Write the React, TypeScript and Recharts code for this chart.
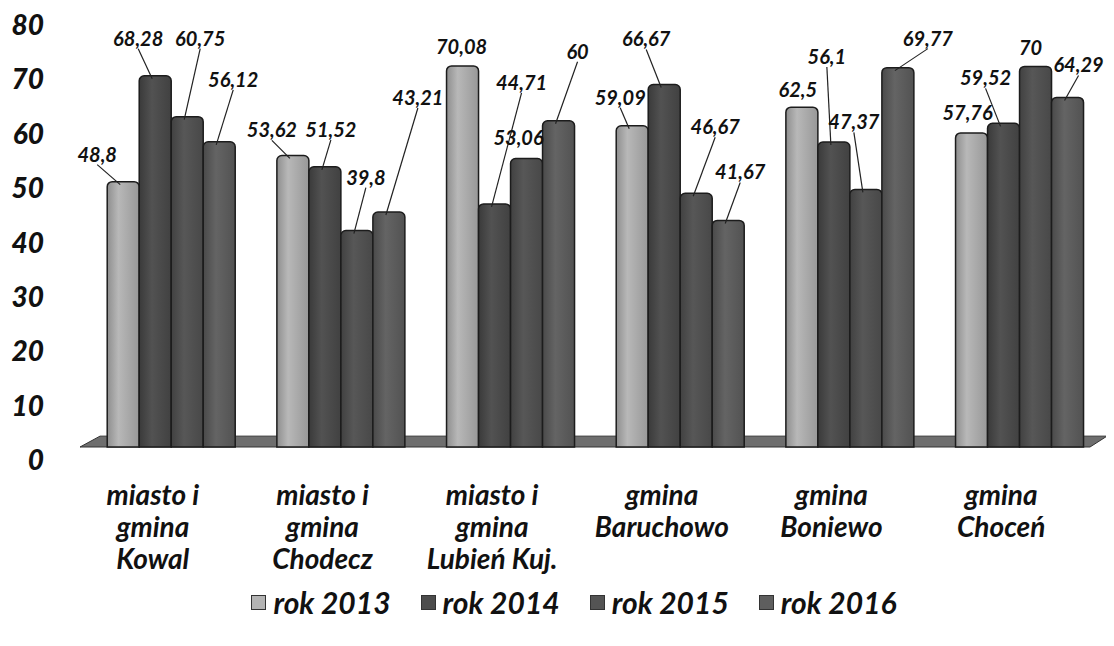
import { BarChart, Bar, XAxis, YAxis, LabelList, ReferenceArea } from 'recharts';

const categories = [
    'miasto i\ngmina\nKowal',
    'miasto i\ngmina\nChodecz',
    'miasto i\ngmina\nLubień Kuj.',
    'gmina\nBaruchowo',
    'gmina\nBoniewo',
    'gmina\nChoceń',
];
const seriesNames = ['rok 2013', 'rok 2014', 'rok 2015', 'rok 2016'];
const rok2013 = [48.8, 53.62, 70.08, 59.09, 62.5, 57.76];
const rok2014 = [68.28, 51.52, 44.71, 66.67, 56.1, 59.52];
const rok2015 = [60.75, 39.8, 53.06, 46.67, 47.37, 70];
const rok2016 = [56.12, 43.21, 60, 41.67, 69.77, 64.29];
const yTicks = [0, 10, 20, 30, 40, 50, 60, 70, 80];

const data = categories.map((name, i) => ({
    name,
    s0: rok2013[i],
    s1: rok2014[i],
    s2: rok2015[i],
    s3: rok2016[i],
}));

// where each value label sits, relative to the top centre of its bar [dx, dy]
const labelOffsets = [
    [[-26, -27], [-21, -25], [-1, -19], [-12, -28], [-4, -17], [-4, -20]],
    [[-17, -37], [6, -37], [27, -121], [-18, -45], [-7, -85], [-18, -45]],
    [[13, -78], [9, -53], [-8, -20], [19, -66], [-12, -67], [-5, -18]],
    [[14, -62], [29, -114], [19, -69], [12, -48], [30, -29], [11, -32]],
];

const FONT = 'Lato, "Open Sans", sans-serif';
const fills = ['url(#g2013)', 'url(#g2014)', 'url(#g2015)', 'url(#g2016)'];
const swatch = ['#b4b4b4', '#4c4c4c', '#545454', '#5e5e5e'];

const makeLabel = (s) => (props) => {
    const { x, y, width, value, index } = props;
    const cx = Number(x) + Number(width) / 2;
    const top = Number(y);
    const [dx, dy] = labelOffsets[s][index];
    const lx = cx + dx;
    const ly = top + dy;
    return (
        <g>
            {dy < -22 && (
                <line x1={lx} y1={ly + 10} x2={cx - 3} y2={top + 3} stroke="#222" strokeWidth={1.2} />
            )}
            <text x={lx} y={ly + 7} textAnchor="middle" fontFamily={FONT} fontStyle="italic"
                  fontWeight={700} fontSize={20} fill="#111">
                {String(value).replace('.', ',')}
            </text>
        </g>
    );
};

const YTick = ({ y, payload }) => (
    <text x={44} y={y + 23} textAnchor="end" fontFamily={FONT} fontStyle="italic"
          fontWeight={900} fontSize={28} fill="#111">
        {payload.value}
    </text>
);

const XTick = ({ x, y, payload }) => {
    const lines = String(payload.value).split('\n');
    return (
        <text x={x - 18} y={y} textAnchor="middle" fontFamily={FONT} fontStyle="italic"
              fontWeight={700} fontSize={28} fill="#111">
            {lines.map((l, k) => (
                <tspan key={k} x={x - 18} dy={k === 0 ? 56 : 32}>{l}</tspan>
            ))}
        </text>
    );
};

const Floor = ({ x, y, width, height }) => (
    <polygon
        points={`${x + 14},${y} ${x + width + 3},${y} ${x + width - 14},${y + height} ${x - 6},${y + height}`}
        fill="#6e6e6e" stroke="#333" strokeWidth={1}
    />
);

export default function App() {
    return (
        <div style={{ position: 'relative', width: 1114, height: 646, margin: -8, background: '#fff' }}>
            <BarChart
                width={1114}
                height={646}
                data={data}
                margin={{ top: 12, right: 10, left: 26, bottom: 79 }}
                barCategoryGap="12.5%"
                barGap={0}
                style={{ overflow: 'visible' }}
            >
                <defs>
                    <linearGradient id="g2013" x1="0" y1="0" x2="1" y2="0">
                        <stop offset="0%" stopColor="#8e8e8e" />
                        <stop offset="35%" stopColor="#b8b8b8" />
                        <stop offset="100%" stopColor="#989898" />
                    </linearGradient>
                    <linearGradient id="g2014" x1="0" y1="0" x2="1" y2="0">
                        <stop offset="0%" stopColor="#3a3a3a" />
                        <stop offset="40%" stopColor="#525252" />
                        <stop offset="100%" stopColor="#414141" />
                    </linearGradient>
                    <linearGradient id="g2015" x1="0" y1="0" x2="1" y2="0">
                        <stop offset="0%" stopColor="#414141" />
                        <stop offset="40%" stopColor="#575757" />
                        <stop offset="100%" stopColor="#484848" />
                    </linearGradient>
                    <linearGradient id="g2016" x1="0" y1="0" x2="1" y2="0">
                        <stop offset="0%" stopColor="#4a4a4a" />
                        <stop offset="40%" stopColor="#646464" />
                        <stop offset="100%" stopColor="#525252" />
                    </linearGradient>
                </defs>
                <XAxis dataKey="name" axisLine={false} tickLine={false} tickSize={0} height={120}
                       interval={0} tick={<XTick />} />
                <YAxis domain={[0, 80]} ticks={yTicks} axisLine={false} tickLine={false} width={60}
                       tick={<YTick />} />
                <ReferenceArea y1={0} y2={2} shape={<Floor />} ifOverflow="visible" />
                {[0, 1, 2, 3].map((s) => (
                    <Bar key={s} dataKey={`s${s}`} name={seriesNames[s]} fill={fills[s]}
                         stroke="#1c1c1c" strokeWidth={1.5} radius={[5, 5, 0, 0]}
                         isAnimationActive={false}>
                        <LabelList dataKey={`s${s}`} content={makeLabel(s)} />
                    </Bar>
                ))}
            </BarChart>
            <div style={{
                position: 'absolute', top: 584, left: 0, width: 1114, display: 'flex',
                justifyContent: 'center', gap: 30, paddingLeft: 34, boxSizing: 'border-box',
                fontFamily: FONT, fontStyle: 'italic', fontWeight: 700, fontSize: 30, color: '#111',
            }}>
                {seriesNames.map((n, s) => (
                    <div key={n} style={{ display: 'flex', alignItems: 'center', gap: 7 }}>
                        <span style={{
                            display: 'inline-block', width: 13, height: 13, background: swatch[s],
                            border: '1px solid #333',
                        }} />
                        <span>{n}</span>
                    </div>
                ))}
            </div>
        </div>
    );
}
